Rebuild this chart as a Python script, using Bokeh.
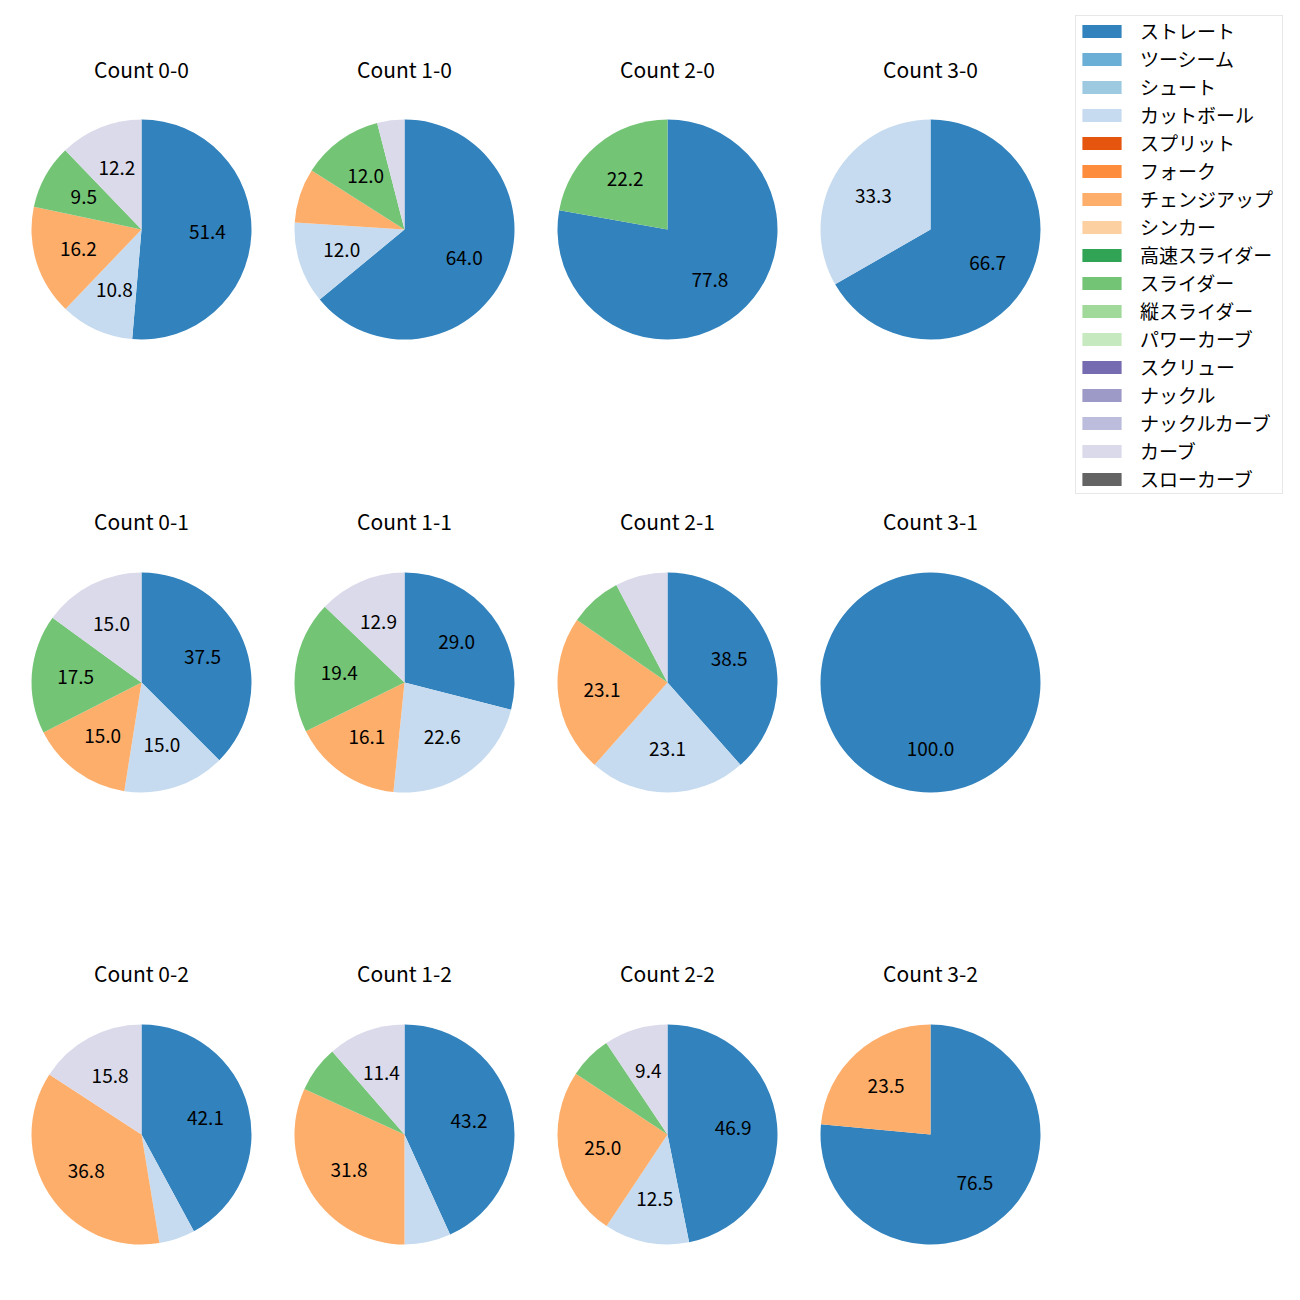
import math
from bokeh.plotting import figure
from bokeh.models import Range1d, ColumnDataSource, Legend, LegendItem
from bokeh.core.properties import value
from bokeh.embed import file_html
from bokeh.resources import INLINE

FONT = "Noto Sans CJK JP"

pitch_names = ["ストレート", "ツーシーム", "シュート", "カットボール", "スプリット", "フォーク",
               "チェンジアップ", "シンカー", "高速スライダー", "スライダー", "縦スライダー",
               "パワーカーブ", "スクリュー", "ナックル", "ナックルカーブ", "カーブ", "スローカーブ"]
pitch_colors = ["#3182bd", "#6baed6", "#9ecae1", "#c6dbef", "#e6550d", "#fd8d3c",
                "#fdae6b", "#fdd0a2", "#31a354", "#74c476", "#a1d99b", "#c7e9c0",
                "#756bb1", "#9e9ac8", "#bcbddc", "#dadaeb", "#636363"]

count_labels = ["0-0", "1-0", "2-0", "3-0",
                "0-1", "1-1", "2-1", "3-1",
                "0-2", "1-2", "2-2", "3-2"]

# percentages per count (same order as count_labels)
straight = [51.4, 64.0, 77.8, 66.7, 37.5, 29.0, 38.5, 100.0, 42.1, 43.2, 46.9, 76.5]
cutball  = [10.8, 12.0, 0.0, 33.3, 15.0, 22.6, 23.1, 0.0, 5.3, 6.8, 12.5, 0.0]
changeup = [16.2, 8.0, 0.0, 0.0, 15.0, 16.1, 23.1, 0.0, 36.8, 31.8, 25.0, 23.5]
slider   = [9.5, 12.0, 22.2, 0.0, 17.5, 19.4, 7.7, 0.0, 0.0, 6.8, 6.3, 0.0]
curve    = [12.2, 4.0, 0.0, 0.0, 15.0, 12.9, 7.7, 0.0, 15.8, 11.4, 9.4, 0.0]

series = {"ストレート": straight, "カットボール": cutball, "チェンジアップ": changeup,
          "スライダー": slider, "カーブ": curve}

# layout (page pixels)
W = H = 1298
col_x = [141, 404, 667, 930]
row_y = [229, 682, 1134]
title_y = [68, 520, 972]
R = 110
LABEL_MIN = 9.0

p = figure(width=W, height=H, output_backend="svg", toolbar_location=None,
           x_range=Range1d(0, W), y_range=Range1d(0, H),
           x_axis_location=None, y_axis_location=None, min_border=0,
           outline_line_color=None, title=None)
p.grid.visible = False

def Y(page_y):
    return H - page_y

wedge_data = {n: dict(x=[], y=[], start=[], end=[]) for n in pitch_names}
lab = dict(x=[], y=[], text=[])
tit = dict(x=[], y=[], text=[])

for i, cl in enumerate(count_labels):
    r, c = divmod(i, 4)
    cx, cy = col_x[c], Y(row_y[r])
    tit["x"].append(cx); tit["y"].append(Y(title_y[r])); tit["text"].append("Count " + cl)
    vals = [(n, series[n][i]) for n in pitch_names if n in series and series[n][i] > 0]
    total = sum(v for _, v in vals)
    ang = math.pi / 2
    for n, v in vals:
        sweep = v / total * 2 * math.pi
        a0, a1 = ang, ang - sweep
        mid = (a0 + a1) / 2
        if sweep > 2 * math.pi - 1e-6:
            a1 = a0 - 2 * math.pi + 1e-4
        d = wedge_data[n]
        d["x"].append(cx); d["y"].append(cy); d["start"].append(a0); d["end"].append(a1)
        if v >= LABEL_MIN:
            lab["x"].append(cx + 0.6 * R * math.cos(mid))
            lab["y"].append(cy + 0.6 * R * math.sin(mid))
            lab["text"].append(f"{v:.1f}")
        ang = a0 - sweep

for n, col in zip(pitch_names, pitch_colors):
    if wedge_data[n]["x"]:
        p.wedge(x="x", y="y", radius=R, start_angle="start", end_angle="end",
                direction="clock", fill_color=col, line_color=None,
                source=ColumnDataSource(wedge_data[n]))

# legend proxies (one per pitch type)
items = []
for n, col in zip(pitch_names, pitch_colors):
    proxy = p.rect(x=[float("nan")], y=[float("nan")], width=1, height=1,
                   fill_color=col, line_color=None)
    items.append(LegendItem(label=n, renderers=[proxy]))

p.text(x="x", y="y", text="text", source=ColumnDataSource(lab),
       text_font=value(FONT), text_font_size="19px", text_color="#000000",
       text_align="center", text_baseline="middle")
p.text(x="x", y="y", text="text", source=ColumnDataSource(tit),
       text_font=value(FONT), text_font_size="21px", text_color="#000000",
       text_align="center", text_baseline="middle")

legend = Legend(items=items, location="top_right",
                orientation="vertical", glyph_width=49, glyph_height=16,
                label_height=20, label_width=141, spacing=1, padding=1, margin=15,
                label_standoff=14, label_text_font=FONT, label_text_font_size="19px",
                label_text_color="#000000", border_line_color="#d0d0d0",
                border_line_width=1, background_fill_color="white",
                background_fill_alpha=0.8)
p.add_layout(legend, "center")

open("out.html", "w").write(file_html(p, INLINE))
